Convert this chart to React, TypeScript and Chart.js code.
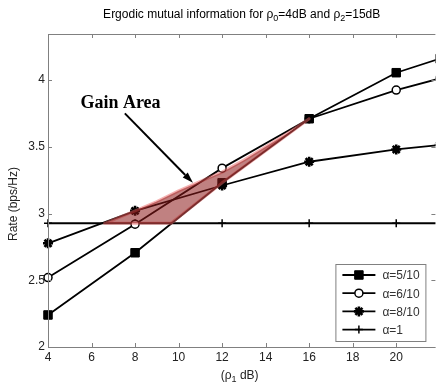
import { useEffect, useRef } from 'react';
import { Chart, registerables } from 'chart.js';
import { drawPoint } from 'chart.js/helpers';

Chart.register(...registerables);

// ---- data ----
const xValues = [4, 8, 12, 16, 20, 22];
const rateAlpha5 = [2.24, 2.706, 3.23, 3.71, 4.055, 4.16];
const rateAlpha6 = [2.52, 2.92, 3.34, 3.71, 3.925, 4.012];
const rateAlpha8 = [2.777, 3.02, 3.21, 3.388, 3.48, 3.513];
const rateAlpha1 = [2.927, 2.927, 2.927, 2.927, 2.927, 2.927];
const seriesLabels = ['α=5/10', 'α=6/10', 'α=8/10', 'α=1'];

const xMin = 4;
const xMax = 21.8;
const xStep = 2;
const yMin = 2;
const yMax = 4.345;
const yStep = 0.5;

// gain area polygon (data units)
const gainUpperX = [6.6, 8, 9, 10, 11, 12, 13, 14, 15, 16];
const gainUpperY = [2.927, 3.02, 3.09, 3.17, 3.24, 3.31, 3.4, 3.5, 3.6, 3.71];
const gainLowerX = [16, 14, 12, 9.65];
const gainLowerY = [3.71, 3.47, 3.23, 2.927];
const arrowFrom = [7.53, 3.75];
const arrowTo = [10.66, 3.23];
const gainLabel = 'Gain Area';
const gainLabelAt = [7.33, 3.79];

const SANS = '"Liberation Sans", Arial, Helvetica, sans-serif';
const SERIF = '"Liberation Serif", "Times New Roman", serif';
const AXIS_GRAY = '#808080';
const FS = 12;

type Part = { t: string; sub?: boolean };

function drawRich(ctx: CanvasRenderingContext2D, parts: Part[], cx: number, baseline: number, size: number, color: string) {
  const subSize = Math.round(size * 0.75);
  let total = 0;
  for (const p of parts) {
    ctx.font = `${p.sub ? subSize : size}px ${SANS}`;
    total += ctx.measureText(p.t).width;
  }
  let x = cx - total / 2;
  ctx.fillStyle = color;
  ctx.textAlign = 'left';
  ctx.textBaseline = 'alphabetic';
  for (const p of parts) {
    ctx.font = `${p.sub ? subSize : size}px ${SANS}`;
    ctx.fillText(p.t, x, baseline + (p.sub ? 3 : 0));
    x += ctx.measureText(p.t).width;
  }
}

const overlayPlugin = {
  id: 'matlabOverlay',
  afterDatasetsDraw(chart: any) {
    const { ctx, scales } = chart;
    const x = scales.x;
    const y = scales.y;
    // gain area
    ctx.save();
    ctx.beginPath();
    gainUpperX.forEach((v, i) => {
      const px = x.getPixelForValue(v);
      const py = y.getPixelForValue(gainUpperY[i]);
      if (i === 0) ctx.moveTo(px, py);
      else ctx.lineTo(px, py);
    });
    gainLowerX.forEach((v, i) => {
      ctx.lineTo(x.getPixelForValue(v), y.getPixelForValue(gainLowerY[i]));
    });
    ctx.closePath();
    ctx.lineJoin = 'round';
    ctx.strokeStyle = 'rgba(235,100,100,0.5)';
    ctx.lineWidth = 3;
    ctx.stroke();
    ctx.fillStyle = 'rgba(140,25,25,0.55)';
    ctx.fill();
    ctx.restore();

    // arrow
    const x1 = x.getPixelForValue(arrowFrom[0]);
    const y1 = y.getPixelForValue(arrowFrom[1]);
    const x2 = x.getPixelForValue(arrowTo[0]);
    const y2 = y.getPixelForValue(arrowTo[1]);
    const ang = Math.atan2(y2 - y1, x2 - x1);
    const headLen = 11;
    const headHalf = 3.5;
    const bx = x2 - headLen * Math.cos(ang);
    const by = y2 - headLen * Math.sin(ang);
    ctx.save();
    ctx.strokeStyle = '#000';
    ctx.lineWidth = 2;
    ctx.beginPath();
    ctx.moveTo(x1, y1);
    ctx.lineTo(bx, by);
    ctx.stroke();
    ctx.fillStyle = '#000';
    ctx.beginPath();
    ctx.moveTo(x2, y2);
    ctx.lineTo(bx + headHalf * Math.sin(ang), by - headHalf * Math.cos(ang));
    ctx.lineTo(bx - headHalf * Math.sin(ang), by + headHalf * Math.cos(ang));
    ctx.closePath();
    ctx.fill();

    // label
    ctx.font = `bold 18px ${SERIF}`;
    ctx.textAlign = 'center';
    ctx.textBaseline = 'alphabetic';
    ctx.fillText(gainLabel, x.getPixelForValue(gainLabelAt[0]), y.getPixelForValue(gainLabelAt[1]));
    ctx.restore();
  },
  afterDraw(chart: any) {
    const { ctx, chartArea: a, scales } = chart;
    const xs = scales.x;
    const ys = scales.y;
    ctx.save();
    // axes lines (right edge is cut off in the reference)
    ctx.strokeStyle = AXIS_GRAY;
    ctx.lineWidth = 1;
    ctx.beginPath();
    ctx.moveTo(a.right, a.top + 0.5);
    ctx.lineTo(a.left + 0.5, a.top + 0.5);
    ctx.lineTo(a.left + 0.5, a.bottom + 0.5);
    ctx.lineTo(a.right, a.bottom + 0.5);
    ctx.stroke();
    // inward ticks
    ctx.beginPath();
    const tl = 4;
    xs.ticks.forEach((t: any) => {
      const px = Math.round(xs.getPixelForValue(t.value)) + 0.5;
      ctx.moveTo(px, a.bottom);
      ctx.lineTo(px, a.bottom - tl);
      ctx.moveTo(px, a.top);
      ctx.lineTo(px, a.top + tl);
    });
    ys.ticks.forEach((t: any) => {
      const py = Math.round(ys.getPixelForValue(t.value)) + 0.5;
      ctx.moveTo(a.left, py);
      ctx.lineTo(a.left + tl, py);
      ctx.moveTo(a.right, py);
      ctx.lineTo(a.right - tl, py);
    });
    ctx.stroke();

    // title
    const cx = (a.left + a.right) / 2;
    drawRich(
      ctx,
      [
        { t: 'Ergodic mutual information for ρ' },
        { t: '0', sub: true },
        { t: '=4dB and ρ' },
        { t: '2', sub: true },
        { t: '=15dB' },
      ],
      cx,
      18,
      FS,
      '#000'
    );
    // x title
    drawRich(ctx, [{ t: '(ρ' }, { t: '1', sub: true }, { t: ' dB)' }], cx - 2, 379, FS, '#222');
    // y title
    ctx.save();
    ctx.translate(14, 204);
    ctx.rotate(-Math.PI / 2);
    ctx.font = `${FS}px ${SANS}`;
    ctx.fillStyle = '#222';
    ctx.textAlign = 'center';
    ctx.textBaseline = 'middle';
    ctx.fillText('Rate (bps/Hz)', 0, 0);
    ctx.restore();

    // legend
    const boxR = a.right - 10;
    const boxB = a.bottom - 6;
    const boxW = 90;
    const boxH = 77;
    const boxL = boxR - boxW;
    const boxT = boxB - boxH;
    ctx.fillStyle = '#fff';
    ctx.fillRect(boxL, boxT, boxW, boxH);
    ctx.strokeStyle = AXIS_GRAY;
    ctx.lineWidth = 1;
    ctx.strokeRect(boxL + 0.5, boxT + 0.5, boxW, boxH);
    const ds = chart.data.datasets;
    ds.forEach((d: any, i: number) => {
      const ly = boxT + 11 + i * 18.2;
      ctx.strokeStyle = '#000';
      ctx.lineWidth = d.borderWidth;
      ctx.beginPath();
      ctx.moveTo(boxL + 7, ly);
      ctx.lineTo(boxL + 40, ly);
      ctx.stroke();
      ctx.fillStyle = d.pointBackgroundColor;
      ctx.strokeStyle = d.pointBorderColor;
      ctx.lineWidth = d.pointBorderWidth;
      drawPoint(ctx, { pointStyle: d.pointStyle, rotation: 0, radius: d.pointRadius, borderWidth: d.pointBorderWidth }, boxL + 23.5, ly);
      ctx.fillStyle = '#333';
      ctx.font = `${FS}px ${SANS}`;
      ctx.textAlign = 'left';
      ctx.textBaseline = 'middle';
      ctx.fillText(d.label, boxL + 47, ly + 1);
    });
    ctx.restore();
  },
};

function makeSeries(label: string, values: number[], style: any) {
  return {
    label,
    data: xValues.map((xv, i) => ({ x: xv, y: values[i] })),
    borderColor: '#000',
    borderWidth: 1.8,
    pointBorderColor: '#000',
    clip: { left: 12, top: 12, right: 0, bottom: 12 },
    ...style,
  };
}

export default function App() {
  const ref = useRef<HTMLCanvasElement>(null);
  useEffect(() => {
    if (!ref.current) return;
    const chart = new Chart(ref.current, {
      type: 'line',
      data: {
        datasets: [
          makeSeries(seriesLabels[0], rateAlpha5, {
            pointStyle: 'rect',
            pointRadius: 6,
            pointBackgroundColor: '#000',
            pointBorderWidth: 1,
          }),
          makeSeries(seriesLabels[1], rateAlpha6, {
            pointStyle: 'circle',
            pointRadius: 4,
            pointBackgroundColor: '#fff',
            pointBorderWidth: 1.5,
          }),
          makeSeries(seriesLabels[2], rateAlpha8, {
            pointStyle: 'star',
            pointRadius: 5,
            pointBackgroundColor: '#000',
            pointBorderWidth: 2.6,
          }),
          makeSeries(seriesLabels[3], rateAlpha1, {
            pointStyle: 'cross',
            pointRadius: 4,
            pointBackgroundColor: '#000',
            pointBorderWidth: 1.5,
          }),
        ],
      },
      options: {
        animation: false,
        responsive: false,
        events: [],
        layout: { padding: { top: 34, right: 0, left: 0, bottom: 0 } },
        plugins: {
          legend: { display: false },
          tooltip: { enabled: false },
          title: { display: false },
        },
        scales: {
          x: {
            type: 'linear',
            min: xMin,
            max: xMax,
            grid: { display: false, drawTicks: false },
            border: { display: false },
            ticks: {
              stepSize: xStep,
              includeBounds: false,
              autoSkip: false,
              maxRotation: 0,
              padding: 3,
              color: '#222',
              font: { family: SANS, size: FS },
              callback: (v: any) => String(Number(v)),
            },
            afterFit: (s: any) => {
              s.height = 38;
            },
          },
          y: {
            type: 'linear',
            min: yMin,
            max: yMax,
            grid: { display: false, drawTicks: false },
            border: { display: false },
            ticks: {
              stepSize: yStep,
              includeBounds: false,
              padding: 3,
              color: '#222',
              font: { family: SANS, size: FS },
              callback: (v: any) => String(Number(v)),
            },
            afterFit: (s: any) => {
              s.width = 48;
            },
          },
        },
      },
      plugins: [overlayPlugin],
    } as any);
    return () => chart.destroy();
  }, []);
  return (
    <div style={{ position: 'fixed', left: 0, top: 0, width: 443, height: 385, background: '#fff' }}>
      <canvas ref={ref} width={443} height={385} />
    </div>
  );
}
